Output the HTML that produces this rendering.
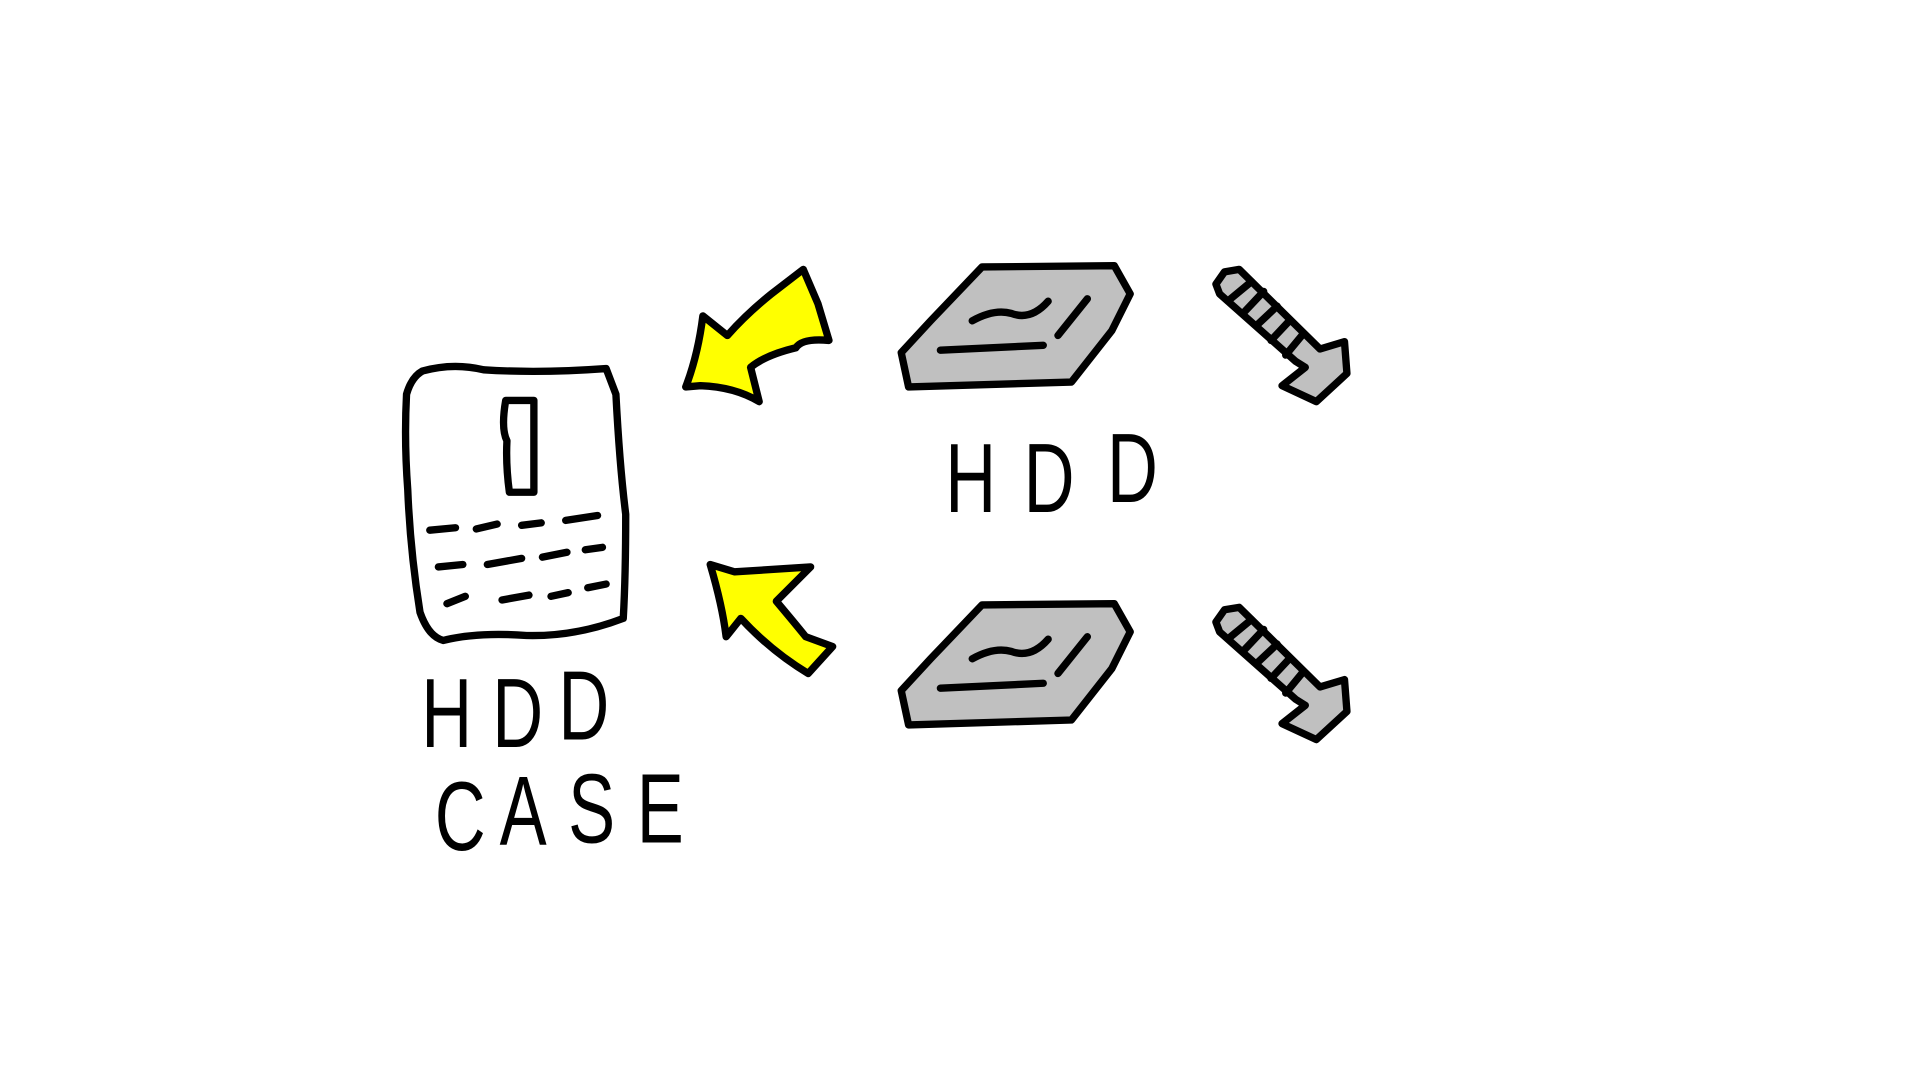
<!DOCTYPE html>
<html><head><meta charset="utf-8"><style>
html,body{margin:0;padding:0;background:#fff;width:1920px;height:1080px;overflow:hidden}
svg{display:block}
text{font-family:"Liberation Sans",sans-serif;fill:#000;font-size:80px}
</style></head><body>
<svg width="1920" height="1080" viewBox="0 0 1568 882" preserveAspectRatio="none" xmlns="http://www.w3.org/2000/svg">
<g fill="none" stroke="#000" stroke-width="6" stroke-linecap="round" stroke-linejoin="round">
<!-- case -->
<path d="M345 303 Q370 296 395 302 Q440 305 495 301 L503 322 Q506 380 511 420 Q511 470 509 505 Q470 520 430 519 Q390 516 362 523 Q350 520 343 500 Q335 450 333 400 Q330 360 332 322 Q336 308 345 303 Z" fill="#fff"/>
<path d="M413 327 L436 327 L436 402 L416 402 Q413 380 414 360 Q409 350 413 327 Z"/>
<path d="M351 433 L372 431 M389 432 L406 428 M426 429 L442 427 M462 425 L488 421"/>
<path d="M358 463 L378 461 M398 461 L426 456 M443 455 L463 451 M478 449 L492 447"/>
<path d="M365 493 L380 487 M410 490 L432 486 M450 487 L464 484 M480 480 L495 477"/>
<!-- arrows -->
<path d="M656 220 L668 248 L677 278 Q655 276 650 284 Q625 290 613 300 L620 328 Q600 316 572 315 L560 316 Q570 290 574 258 L594 274 Q610 256 630 240 Z" fill="#ff0"/>
<path d="M580 461 L600 467 L662 463 L634 491 Q650 510 658 520 L680 528 L660 550 Q630 532 605 505 L593 520 Q590 495 580 461 Z" fill="#ff0"/>
<!-- HDDs -->
<path d="M802 218 L910 217 L923 240 L908 270 L875 312 L742 316 L736 288 L760 262 Z" fill="#c0c0c0"/>
<path d="M794 262 Q812 252 826 256 Q842 262 856 246 M888 244 L864 274 M768 286 L852 282"/>
<path d="M802 494 L910 493 L923 516 L908 546 L875 588 L742 592 L736 564 L760 538 Z" fill="#c0c0c0"/>
<path d="M794 538 Q812 528 826 532 Q842 538 856 522 M888 520 L864 550 M768 562 L852 558"/>
<!-- screws -->
<g id="s1" fill="#c0c0c0">
<path d="M1000 222 L1012 220 L1078 285 L1098 279 L1100 305 L1075 328 L1047 315 L1066 300 L1058 295 L996 240 L993 232 Z"/>
<path d="M1005 244 L1022 230 M1015 256 L1032 238 M1026 266 L1043 250 M1038 278 L1053 262 M1050 290 L1064 273"/>
</g>
<use href="#s1" transform="translate(0,276)"/>
</g>
<text transform="translate(772,418) scale(0.72,1)">H</text>
<text transform="translate(836,418) scale(0.72,1)">D</text>
<text transform="translate(904,410) scale(0.72,1)">D</text>
<text transform="translate(344,610) scale(0.72,1)">H</text>
<text transform="translate(402,610) scale(0.72,1)">D</text>
<text transform="translate(456,604) scale(0.72,1)">D</text>
<text transform="translate(355,694) scale(0.72,1)">C</text>
<text transform="translate(408,690) scale(0.72,1)">A</text>
<text transform="translate(464,688) scale(0.72,1)">S</text>
<text transform="translate(520,688) scale(0.72,1)">E</text>
</svg>
</body></html>
